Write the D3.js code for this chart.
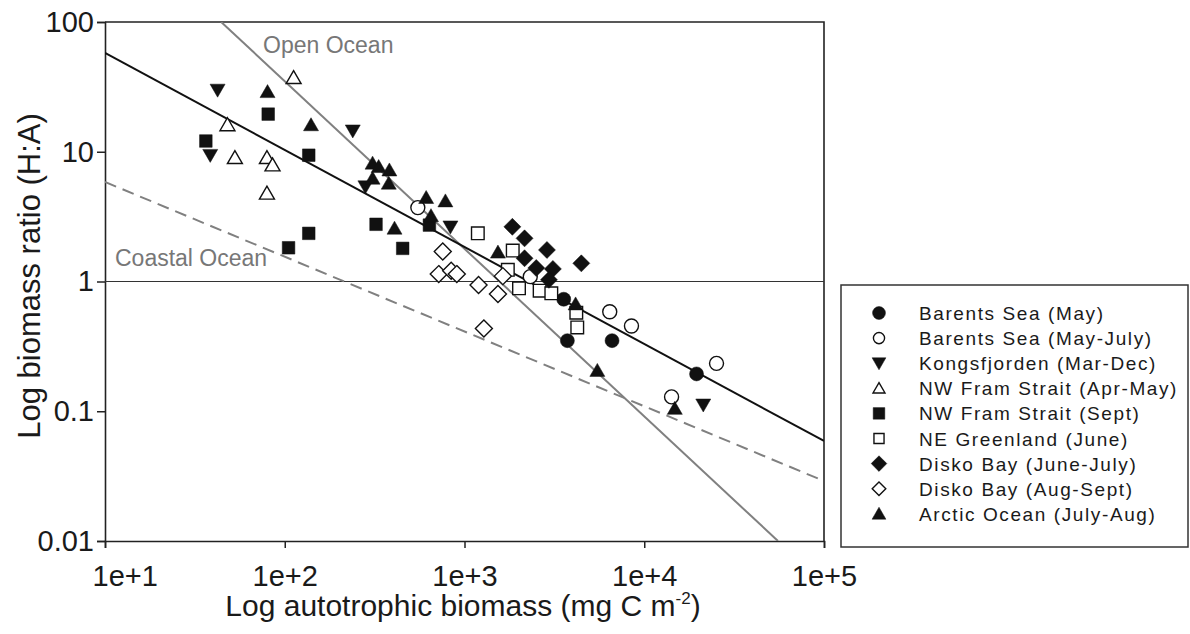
<!DOCTYPE html>
<html>
<head>
<meta charset="utf-8">
<script src="https://cdn.jsdelivr.net/npm/d3@7"></script>
<style>
  body { margin: 0; background: #fff; }
  svg { display: block; font-family: "Liberation Sans", Arial, sans-serif; }
</style>
</head>
<body>
<svg id="chart" width="1190" height="634"></svg>
<script>
// values: [autotrophic biomass, H:A ratio]
var barentsMay = [[3565, 0.73], [3735, 0.35], [6620, 0.35], [19540, 0.194]];
var barentsMayJuly = [[550, 3.71], [2322, 1.09], [6427, 0.585], [8490, 0.454], [25240, 0.234], [14190, 0.129]];
var kongsfjorden = [[42.3, 29.9], [38.5, 9.4], [239, 14.5], [281, 5.38], [835, 2.64], [21300, 0.112]];
var framAprMay = [[112, 37.2], [48, 16.1], [52.8, 9.0], [79.6, 9.0], [85.5, 7.9], [79.6, 4.79]];
var framSept = [[80.9, 19.5], [36.4, 12.1], [136, 9.4], [136, 2.35], [105, 1.82], [322, 2.76], [453, 1.80], [638, 2.72]];
var neGreenland = [[1186, 2.35], [1855, 1.73], [1742, 1.23], [2010, 0.886], [2618, 0.85], [3041, 0.81], [4188, 0.575], [4240, 0.443]];
var diskoJuneJuly = [[1846, 2.64], [2158, 2.15], [2876, 1.75], [4467, 1.38], [2158, 1.51], [2507, 1.27], [3103, 1.25], [2950, 1.03]];
var diskoAugSept = [[757, 1.70], [719, 1.14], [843, 1.21], [906, 1.14], [1197, 0.94], [1634, 1.10], [1535, 0.80], [1282, 0.435]];
var arcticOcean = [[80.2, 29.0], [140, 16.1], [308, 8.15], [333, 7.67], [382, 7.22], [308, 6.24], [379, 5.71], [612, 4.43],
                   [783, 4.17], [651, 3.21], [408, 2.57], [1535, 1.68], [4150, 0.67], [5483, 0.206], [14790, 0.105]];

// line end points
var fitAll = [[10, 57.7], [1e5, 0.059]];
var openOcean = [[44.3, 100], [55450, 0.01]];
var coastalOcean = [[10, 5.85], [1e5, 0.029]];
var unity = [[10, 1], [1e5, 1]];

var xTicks = [1e1, 1e2, 1e3, 1e4, 1e5];
var xTickLabels = ["1e+1", "1e+2", "1e+3", "1e+4", "1e+5"];
var yTicks = [0.01, 0.1, 1, 10, 100];
var yTickLabels = ["0.01", "0.1", "1", "10", "100"];

var seriesNames = ["Barents Sea (May)", "Barents Sea (May-July)", "Kongsfjorden (Mar-Dec)", "NW Fram Strait (Apr-May)",
                   "NW Fram Strait (Sept)", "NE Greenland (June)", "Disko Bay (June-July)", "Disko Bay (Aug-Sept)", "Arctic Ocean (July-Aug)"];
var seriesData = [barentsMay, barentsMayJuly, kongsfjorden, framAprMay, framSept, neGreenland, diskoJuneJuly, diskoAugSept, arcticOcean];
var seriesShape = ["circle", "circle", "down", "up", "square", "square", "diamond", "diamond", "up"];
var seriesFilled = [true, false, true, false, true, false, true, false, true];

var plotL = 105, plotR = 824, plotT = 22, plotB = 541;
var svg = d3.select("#chart");

var x = d3.scaleLog().domain([10, 1e5]).range([plotL, plotR]);
var y = d3.scaleLog().domain([0.01, 100]).range([plotB, plotT]);

svg.append("clipPath").attr("id", "plotclip")
  .append("rect").attr("x", plotL).attr("y", plotT).attr("width", plotR - plotL).attr("height", plotB - plotT);

// marker shapes, k scales the size
function shapePath(shape, k) {
  if (shape == "circle") {
    var r = 7 * k;
    return "M" + (-r) + ",0A" + r + "," + r + " 0 1,0 " + r + ",0A" + r + "," + r + " 0 1,0 " + (-r) + ",0Z";
  }
  if (shape == "up") {
    var w = 7.5 * k, h = 13 * k;
    return "M0," + (-h * 0.55) + "L" + w + "," + (h * 0.45) + "L" + (-w) + "," + (h * 0.45) + "Z";
  }
  if (shape == "down") {
    var w = 7.5 * k, h = 13 * k;
    return "M0," + (h * 0.55) + "L" + w + "," + (-h * 0.45) + "L" + (-w) + "," + (-h * 0.45) + "Z";
  }
  if (shape == "square") {
    var s = 6.3 * k;
    return "M" + (-s) + "," + (-s) + "H" + s + "V" + s + "H" + (-s) + "Z";
  }
  var d = 8.5 * k;
  return "M0," + (-d) + "L" + d + ",0L0," + d + "L" + (-d) + ",0Z";
}

// axes
var yAxis = svg.append("g").attr("transform", "translate(" + plotL + ",0)")
  .call(d3.axisLeft(y).tickValues(yTicks).tickFormat(function (d, i) { return yTickLabels[i]; }).tickSize(8).tickPadding(3));
var xAxis = svg.append("g").attr("transform", "translate(0," + plotB + ")")
  .call(d3.axisBottom(x).tickValues(xTicks).tickFormat(function (d, i) { return xTickLabels[i]; }).tickSize(7).tickPadding(17));

[yAxis, xAxis].forEach(function (g) {
  g.select(".domain").attr("stroke", "#222").attr("stroke-width", 1.6);
  g.selectAll(".tick line").attr("stroke", "#222").attr("stroke-width", 1.5);
  g.selectAll(".tick text").attr("fill", "#1a1a1a").style("font-size", "29px").style("font-family", "Liberation Sans, Arial, sans-serif");
});
xAxis.selectAll(".tick text").filter(function (d) { return d == 10; })
  .attr("text-anchor", "start").attr("x", -13);

// frame top and right
svg.append("path").attr("d", "M" + plotL + "," + plotT + "H" + plotR + "V" + plotB)
  .attr("fill", "none").attr("stroke", "#222").attr("stroke-width", 1.6);

var line = d3.line().x(function (d) { return x(d[0]); }).y(function (d) { return y(d[1]); });
var lines = svg.append("g").attr("clip-path", "url(#plotclip)");
lines.append("path").datum(unity).attr("d", line).attr("fill", "none").attr("stroke", "#333").attr("stroke-width", 1.2);
lines.append("path").datum(coastalOcean).attr("d", line).attr("fill", "none").attr("stroke", "#808080")
  .attr("stroke-width", 2).attr("stroke-dasharray", "12,7");
lines.append("path").datum(openOcean).attr("d", line).attr("fill", "none").attr("stroke", "#808080").attr("stroke-width", 2);
lines.append("path").datum(fitAll).attr("d", line).attr("fill", "none").attr("stroke", "#111").attr("stroke-width", 2);

svg.append("text").attr("x", 263).attr("y", 53).attr("fill", "#777").style("font-size", "23px").text("Open Ocean");
svg.append("text").attr("x", 115).attr("y", 266).attr("fill", "#777").style("font-size", "23px").text("Coastal Ocean");

// points
seriesData.forEach(function (data, i) {
  svg.append("g").selectAll("path")
    .data(data)
    .enter()
    .append("path")
    .attr("transform", function (d) { return "translate(" + x(d[0]) + "," + y(d[1]) + ")"; })
    .attr("d", shapePath(seriesShape[i], 1))
    .attr("fill", seriesFilled[i] ? "#111" : "#fff")
    .attr("stroke", "#111")
    .attr("stroke-width", seriesFilled[i] ? 0.5 : 1.4);
});

// axis titles
svg.append("text").attr("x", 463).attr("y", 616).attr("text-anchor", "middle")
  .attr("fill", "#1a1a1a").style("font-size", "30px")
  .html('Log autotrophic biomass (mg C m<tspan dy="-12" style="font-size:17px">-2</tspan><tspan dy="12">)</tspan>');
svg.append("text").attr("transform", "translate(40,276) rotate(-90)").attr("text-anchor", "middle")
  .attr("fill", "#1a1a1a").style("font-size", "31px").text("Log biomass ratio (H:A)");

// legend
var legend = svg.append("g");
legend.append("rect").attr("x", 841).attr("y", 285).attr("width", 347).attr("height", 262)
  .attr("fill", "#fff").attr("stroke", "#333").attr("stroke-width", 1.5);
seriesNames.forEach(function (name, i) {
  var cy = 313 + i * 25.1;
  legend.append("path")
    .attr("transform", "translate(879," + cy + ")")
    .attr("d", shapePath(seriesShape[i], seriesFilled[i] ? 0.92 : 0.8))
    .attr("fill", seriesFilled[i] ? "#111" : "#fff")
    .attr("stroke", "#111").attr("stroke-width", seriesFilled[i] ? 0.5 : 1.4);
  legend.append("text").attr("x", 919).attr("y", cy + 7)
    .attr("fill", "#1a1a1a").style("font-size", "19px").style("letter-spacing", "1.6px")
    .text(name);
});
</script>
</body>
</html>
